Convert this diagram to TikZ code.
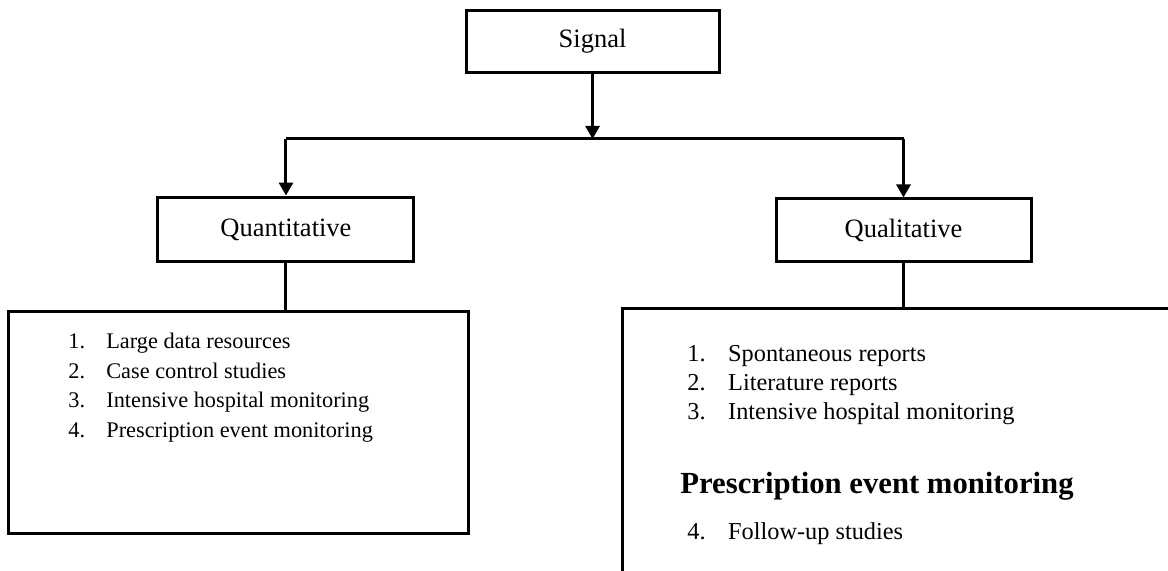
\documentclass[tikz,border=0pt]{standalone}
\usepackage{fontspec}
\setmainfont{Liberation Serif}
\usetikzlibrary{arrows.meta, positioning}
\tikzset{
  catbox/.style={rectangle, draw=black, line width=1.5bp,
    font=\fontsize{13.3}{16}\selectfont, inner sep=0pt},
  listbox/.style={rectangle, draw=black, line width=1.5bp, inner sep=0pt},
  listtext/.style={anchor=west, inner sep=0pt, align=left},
  arrow/.style={-{Triangle[width=7bp,length=6.5bp]}, line width=1.5bp, color=black},
  line/.style={line width=1.5bp, color=black}
}

\begin{document}
\begin{tikzpicture}
  \useasboundingbox (0,0) rectangle (20.601,10.071);
  \clip (0,0) rectangle (20.601,10.071);
  % Category boxes
  \node[catbox, minimum width=4.462cm, minimum height=1.076cm] (signal) at (10.451,9.339) {Signal};
  \node[catbox, minimum width=4.515cm, minimum height=1.146cm] (quant) at (5.044,6.023) {Quantitative};
  \node[catbox, minimum width=4.498cm, minimum height=1.111cm] (qual) at (15.936,6.006) {Qualitative};
  % Method boxes
  \node[listbox, minimum width=8.113cm, minimum height=3.898cm] (qnmethods) at (4.215,2.619) {};
  \node[listbox, minimum width=10cm, minimum height=6cm] (qlmethods) at (15.988,1.621) {};
  % Split
  \coordinate (split) at (10.495,7.620);
  \coordinate (splitL) at (quant.north |- split);
  \coordinate (splitR) at (qual.north |- split);
  \draw[arrow] (signal.south) -- (signal.south |- split);
  \draw[line] (splitL) -- (splitR);
  \draw[arrow] (splitL) -- (quant.north);
  \draw[arrow] (splitR) -- (qual.north);
  \draw[line] (quant.south) -- (quant.south |- qnmethods.north);
  \draw[line] (qual.south) -- (qual.south |- qlmethods.north);
  % Quantitative methods
  \node[listtext, font=\fontsize{11.2}{15}\selectfont] (qnlist) at (1.199,3.245)
    {\begin{tabular}{@{}p{0.67cm}@{}l@{}}
      1. & Large data resources\\
      2. & Case control studies\\
      3. & Intensive hospital monitoring\\
      4. & Prescription event monitoring
    \end{tabular}};
  % Qualitative methods
  \node[listtext, font=\fontsize{12.2}{14.5}\selectfont] (qllist) at (12.117,3.281)
    {\begin{tabular}{@{}p{0.72cm}@{}l@{}}
      1. & Spontaneous reports\\
      2. & Literature reports\\
      3. & Intensive hospital monitoring
    \end{tabular}};
  \node[listtext, font=\fontsize{15.4}{18}\selectfont\bfseries] (pemhead) at (11.994,1.50) {Prescription event monitoring};
  \node[listtext, font=\fontsize{12.2}{14.5}\selectfont] (fulist) at (12.117,0.653)
    {\begin{tabular}{@{}p{0.72cm}@{}l@{}}
      4. & Follow-up studies
    \end{tabular}};
\end{tikzpicture}
\end{document}
